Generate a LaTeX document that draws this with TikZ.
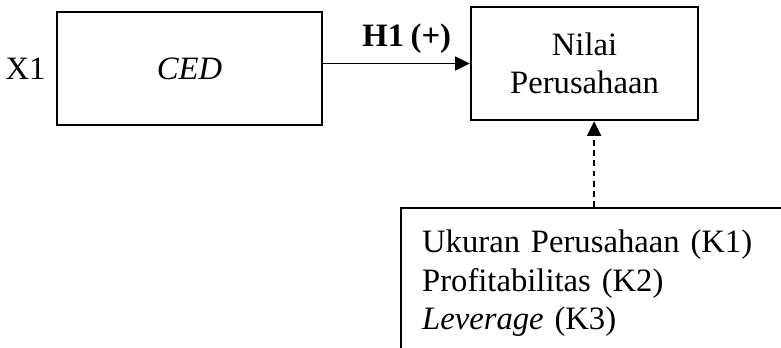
\documentclass[tikz,border=0pt]{standalone}
\usepackage{fontspec}
\setmainfont{Liberation Serif}[WordSpace=0.8]
\usetikzlibrary{positioning,arrows.meta}

\tikzset{
  kotak/.style={draw, line width=0.8pt, minimum width=#1, minimum height=38.8pt, align=center},
  panah/.style={line width=0.5pt, -{Triangle[length=5pt,width=4.8pt]}},
}

\begin{document}
\begin{tikzpicture}[x=0.343pt,y=-0.343pt, every node/.style={font=\fontsize{11.2pt}{13.2pt}\selectfont}]
  \useasboundingbox (0,0) rectangle (781,347);
  % variabel
  \node[kotak=90.9pt] (ced) at (189.5,68.5) {\textit{CED}};
  \node[left=0pt of ced] (x1) {X1};
  \node[kotak=77.9pt] (nilai) at (584.5,63.5) {Nilai\\Perusahaan};
  % kontrol
  \node[draw, line width=0.8pt, anchor=north west, text width=140pt, inner xsep=7.2pt, inner ysep=7.5pt, align=left] (kontrol) at (400,207)
    {Ukuran Perusahaan (K1)\\Profitabilitas (K2)\\\textit{Leverage} (K3)};
  \draw[panah] (ced.east |- nilai.west) -- node[above, pos=0.57] {\textbf{H1 (+)}} (nilai.west);
  \draw[panah, dash pattern=on 2pt off 1.5pt] ([xshift=3.3pt]nilai.south |- kontrol.north) -- ([xshift=3.3pt]nilai.south);
\end{tikzpicture}
\end{document}
